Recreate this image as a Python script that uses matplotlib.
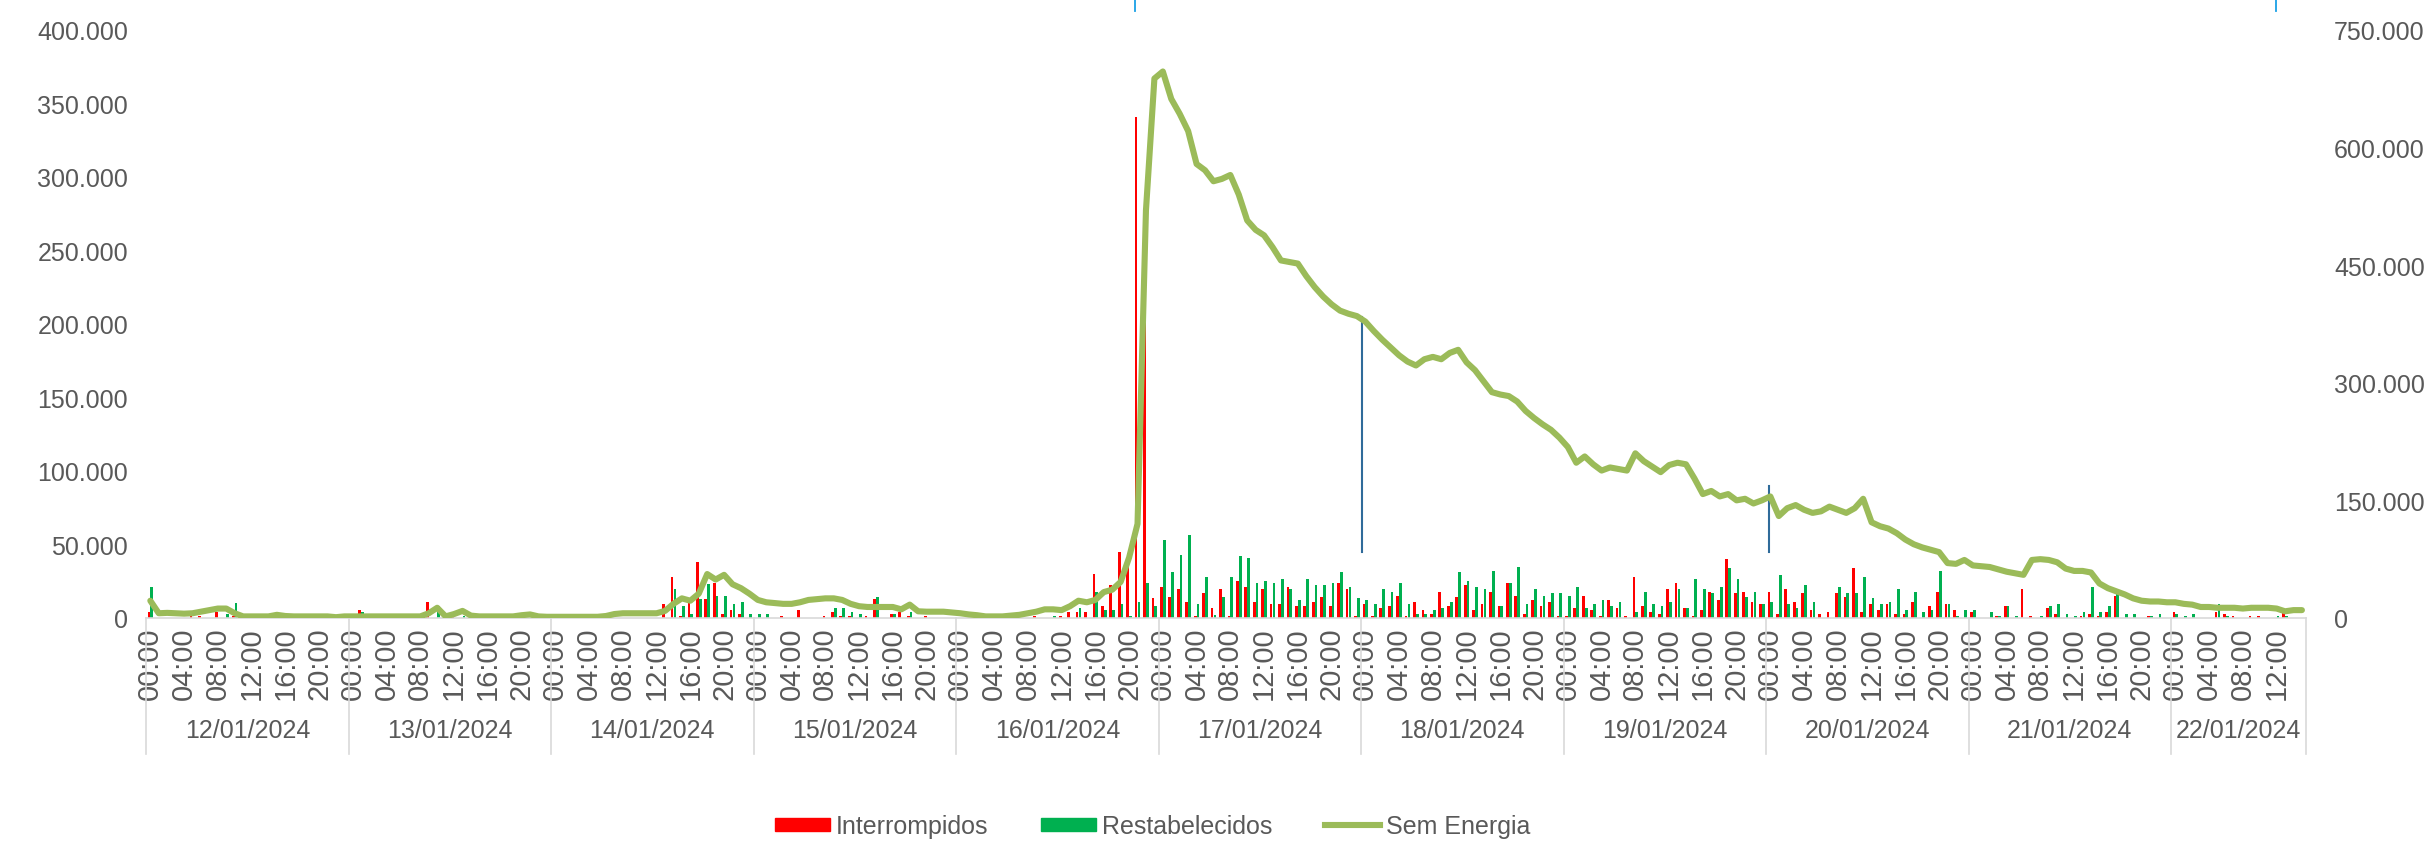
import matplotlib
matplotlib.use("Agg")
import matplotlib.pyplot as plt
import numpy as np
from matplotlib.transforms import blended_transform_factory
from matplotlib.lines import Line2D
from matplotlib.patches import Patch

plt.rcParams['font.family'] = ['Liberation Sans', 'DejaVu Sans']

# ---------------- data (values in thousands, hourly) ----------------
days = ["12/01/2024", "13/01/2024", "14/01/2024", "15/01/2024", "16/01/2024",
        "17/01/2024", "18/01/2024", "19/01/2024", "20/01/2024", "21/01/2024",
        "22/01/2024"]
hours_per_day = [24, 24, 24, 24, 24, 24, 24, 24, 24, 24, 16]

red12 = [4, 0, 0, 0, 0, 1.5, 1.5, 0, 4.3, 0, 1.5, 0, 0, 0, 0, 0, 0, 0, 0, 0, 0, 0, 0, 0]
red13 = [0, 5.7, 0, 0, 0, 0, 0, 0, 0, 11, 0, 0, 4, 0, 0, 0, 0, 0, 0, 0, 0, 0, 0, 0]
red14 = [0, 0, 0, 0, 0, 0, 0, 0, 0, 0, 0, 0, 0, 9.5, 28, 1.5, 13.6, 38, 13, 24, 2.7, 5.7, 2.7, 0]
red15 = [0, 0, 0, 1, 0, 5.7, 0, 0, 1, 4, 1.5, 1.5, 0, 1.5, 13, 0, 2.7, 3.9, 1.5, 0, 1, 0, 0, 0]
red16 = [0, 0, 0, 0, 0, 0, 0, 0, 0, 1, 0, 0, 1.5, 4.3, 4.3, 4, 30, 8.4, 22.5, 45, 34.5, 341, 261, 13.6]
red17 = [21, 14, 20, 11, 1, 17, 7, 20, 1, 25.4, 21, 11, 20, 9.5, 9.5, 21, 8.4, 8.4, 11, 14, 8.4, 24, 20, 1]
red18 = [9.5, 1, 7, 8.4, 15, 1, 11, 5.4, 2.7, 18, 8.4, 14, 22.5, 5.4, 9.5, 18, 8.4, 24, 15, 2.7, 12.5, 8.4, 11, 1]
red19 = [1, 7, 15, 5.7, 1, 12.5, 7, 1, 28, 8.4, 4, 2.7, 20, 24, 7, 1, 5.4, 18, 12.5, 40, 17, 18, 11, 9.5]
red20 = [18, 2.7, 20, 11, 17, 5.4, 2.7, 4, 17, 14, 34, 4, 9.5, 5.4, 9.5, 2.7, 2.7, 11, 0, 8.4, 18, 9.5, 5.4, 0]
red21 = [4, 0, 0, 1, 8.4, 0, 20, 1, 0, 7, 2.7, 0, 0, 1, 2.7, 1, 4.3, 15, 0, 0, 0, 1, 0, 0]
red22 = [4.3, 0, 0, 0, 0, 4.3, 2.7, 1, 0, 1, 1, 0, 0, 4, 0, 0]

green12 = [21, 0, 0, 0, 0, 0, 0, 0, 0, 2.7, 10, 0, 0, 0, 0, 0, 0, 0, 0, 0, 0, 0, 0, 0]
green13 = [0, 4, 0, 0, 0, 0, 0, 0, 0, 0, 8.4, 0, 0, 1.5, 0, 0, 0, 0, 0, 0, 0, 0, 0, 0]
green14 = [0, 0, 0, 0, 0, 0, 0, 0, 0, 0, 0, 0, 0, 0, 20, 8, 2.7, 13, 23, 15, 15, 9.5, 11, 2.7]
green15 = [2.7, 2.7, 0, 0, 0, 0, 0, 0, 0, 7, 7, 4, 2.7, 0, 14, 0, 2.7, 0, 3.9, 0, 0, 0, 0, 0]
green16 = [0, 0, 0, 0, 0, 0, 0, 0, 0, 0, 0, 1.5, 0, 0, 6.6, 0, 18, 5.4, 5.4, 9.5, 1, 11, 24, 8.4]
green17 = [53, 31, 42.5, 56.5, 9.5, 28, 2.3, 14.5, 28, 42, 41, 24, 25, 24, 26.5, 20, 12.5, 26.5, 22.5, 22.5, 24, 31, 21, 13.6]
green18 = [12.5, 9.5, 20, 18, 24, 9.5, 2.7, 2.7, 5.4, 7, 11, 31, 25, 21, 20, 32, 8.4, 24, 35, 9.5, 20, 15, 17, 17]
green19 = [15, 21, 7, 9.5, 12.5, 8.4, 11, 0, 4, 18, 9.5, 8.4, 11, 20, 7, 26.5, 20, 17, 21, 34, 26.5, 14, 18, 9.5]
green20 = [11, 29.5, 9.5, 7, 22.5, 11, 0, 0, 21, 17, 17, 28, 13.6, 9.5, 11, 20, 5.4, 18, 4, 5.4, 32, 9.5, 1.5, 5.4]
green21 = [5.4, 0, 4, 1, 8.4, 1, 0, 0, 1, 8.4, 9.5, 2.7, 1.5, 4.3, 21, 4.3, 8.4, 20, 2.7, 2.7, 0, 1, 2.7, 0]
green22 = [2.7, 1.5, 2.7, 0, 0, 9.5, 1, 0, 0, 0, 0, 0, 1, 1.5, 0, 0]

line12 = [22, 6, 6.5, 6, 5.5, 6, 8, 10, 12, 12, 6, 2, 2, 2, 2, 4, 2.5, 2, 2, 2, 2, 2, 1, 2]
line13 = [2, 2, 2, 2, 2, 2, 2, 2, 2, 6, 13, 2, 5, 9, 3, 2, 2, 2, 2, 2, 3.5, 4.5, 2, 1.5]
line14 = [1.5, 1.5, 1.5, 1.5, 1.5, 1.5, 2.5, 5, 6, 6, 6, 6, 6, 9, 18, 25, 22, 31, 56, 49, 55, 43, 38, 31]
line15 = [23, 20, 19, 18, 18, 20, 23, 24, 25, 25, 23, 18, 15, 14, 14, 14, 14, 11, 17, 8.5, 8, 8, 8, 7]
line16 = [6, 4.5, 3.5, 2, 2, 2, 3, 4, 6, 8, 11, 11, 10, 15, 22, 20, 23, 33, 36, 46, 77, 120, 520, 688]
line17 = [697, 662, 643, 621, 579, 571, 557, 560, 565, 540, 507, 495, 488, 473, 456, 454, 452, 436, 422, 410, 400, 392, 388, 385]
line18 = [378, 366, 355, 345, 335, 327, 322, 330, 333, 330, 338, 342, 326, 316, 302, 288, 285, 283, 276, 264, 255, 247, 240, 230]
line19 = [218, 198, 206, 196, 188, 192, 190, 188, 210, 200, 193, 186, 195, 198, 196, 178, 158, 162, 155, 158, 150, 152, 146, 150]
line20 = [155, 130, 140, 144, 138, 134, 136, 142, 138, 134, 140, 152, 122, 117, 114, 108, 100, 94, 90, 87, 84, 70, 69, 74]
line21 = [67, 66, 65, 62, 59, 57, 55, 74, 75, 74, 71, 63, 60, 60, 58, 44, 38, 34, 30, 25, 22, 21, 21, 20]
line22 = [20, 18, 17, 14, 14, 13, 13, 13, 12, 13, 13, 13, 12, 8.5, 10, 10]

interrompidos = np.array(red12 + red13 + red14 + red15 + red16 + red17 + red18 +
                         red19 + red20 + red21 + red22) * 1000
restabelecidos = np.array(green12 + green13 + green14 + green15 + green16 + green17 +
                          green18 + green19 + green20 + green21 + green22) * 1000
sem_energia = np.array(line12 + line13 + line14 + line15 + line16 + line17 + line18 +
                       line19 + line20 + line21 + line22) * 1000

# ---------------- figure ----------------
RED = "#FF0000"
GREEN = "#00B050"
LINE = "#9BBB59"
TXT = "#595959"
GRID = "#D9D9D9"

n = len(sem_energia)
x = np.arange(n)

fig = plt.figure(figsize=(24.27, 8.45), dpi=100)
ax = fig.add_axes([0.0602, 0.2675, 0.8900, 0.6959])

bw = 0.32
ax.bar(x - 0.17, interrompidos, width=bw, color=RED, linewidth=0)
ax.bar(x + 0.17, restabelecidos, width=bw, color=GREEN, linewidth=0)
ax.set_xlim(-0.5, n - 0.5)
ax.set_ylim(0, 400000)

def fmt(v):
    return f"{v:,.0f}".replace(",", ".")

lt = np.arange(0, 400001, 50000)
ax.set_yticks(lt)
ax.set_yticklabels([fmt(v) for v in lt])
ax.tick_params(axis='y', length=0, pad=13, labelsize=18, labelcolor=TXT)

# hour ticks
hour_of = []
for d, h in enumerate(hours_per_day):
    hour_of += list(range(h))
hour_of = np.array(hour_of)
tpos = x[hour_of % 4 == 0]
ax.set_xticks(tpos)
ax.set_xticklabels([f"{hour_of[p]:02d}:00" for p in tpos], rotation=90)
ax.tick_params(axis='x', length=0, pad=6, labelsize=21, labelcolor=TXT)

for s in ["top", "left", "right"]:
    ax.spines[s].set_visible(False)
ax.spines["bottom"].set_color(GRID)
ax.spines["bottom"].set_linewidth(1.2)

trans = blended_transform_factory(ax.transData, ax.transAxes)
start = -0.5
for d, h in enumerate(hours_per_day):
    ax.plot([start, start], [0, -0.232], transform=trans, color=GRID, lw=1.2, clip_on=False)
    ax.text(start + h / 2, -0.19, days[d], transform=trans, ha="center", va="center",
            fontsize=18, color=TXT)
    start += h
ax.plot([start, start], [0, -0.232], transform=trans, color=GRID, lw=1.2, clip_on=False)

# small artefact marks visible in the original
ax.plot([143.6, 143.6], [45000, 205000], color="#2F6B9A", lw=1.5)
ax.plot([191.8, 191.8], [45000, 90000], color="#2F6B9A", lw=1.5)
for xp in (116.7, 251.9):
    ax.plot([xp, xp], [1.032, 1.06], transform=trans, color="#1AA0E6", lw=1.3, clip_on=False)

ax2 = ax.twinx()
ax2.plot(x, sem_energia, color=LINE, lw=4.4, solid_joinstyle="round", solid_capstyle="round")
ax2.set_ylim(0, 750000)
rt = np.arange(0, 750001, 150000)
ax2.set_yticks(rt)
ax2.set_yticklabels([fmt(v) for v in rt])
ax2.tick_params(axis='y', length=0, pad=20, labelsize=18, labelcolor=TXT)
for s in ["top", "left", "right", "bottom"]:
    ax2.spines[s].set_visible(False)

handles = [Patch(color=RED), Patch(color=GREEN), Line2D([0], [0], color=LINE, lw=4.4)]
labels = ["Interrompidos", "Restabelecidos", "Sem Energia"]
fig.legend(handles, labels, loc="center", bbox_to_anchor=(0.475, 0.021), ncol=3,
           frameon=False, fontsize=18, handlelength=2.2, handleheight=0.45,
           handletextpad=0.25, columnspacing=2.1, labelcolor=TXT)

fig.savefig("out.png", dpi=100)
